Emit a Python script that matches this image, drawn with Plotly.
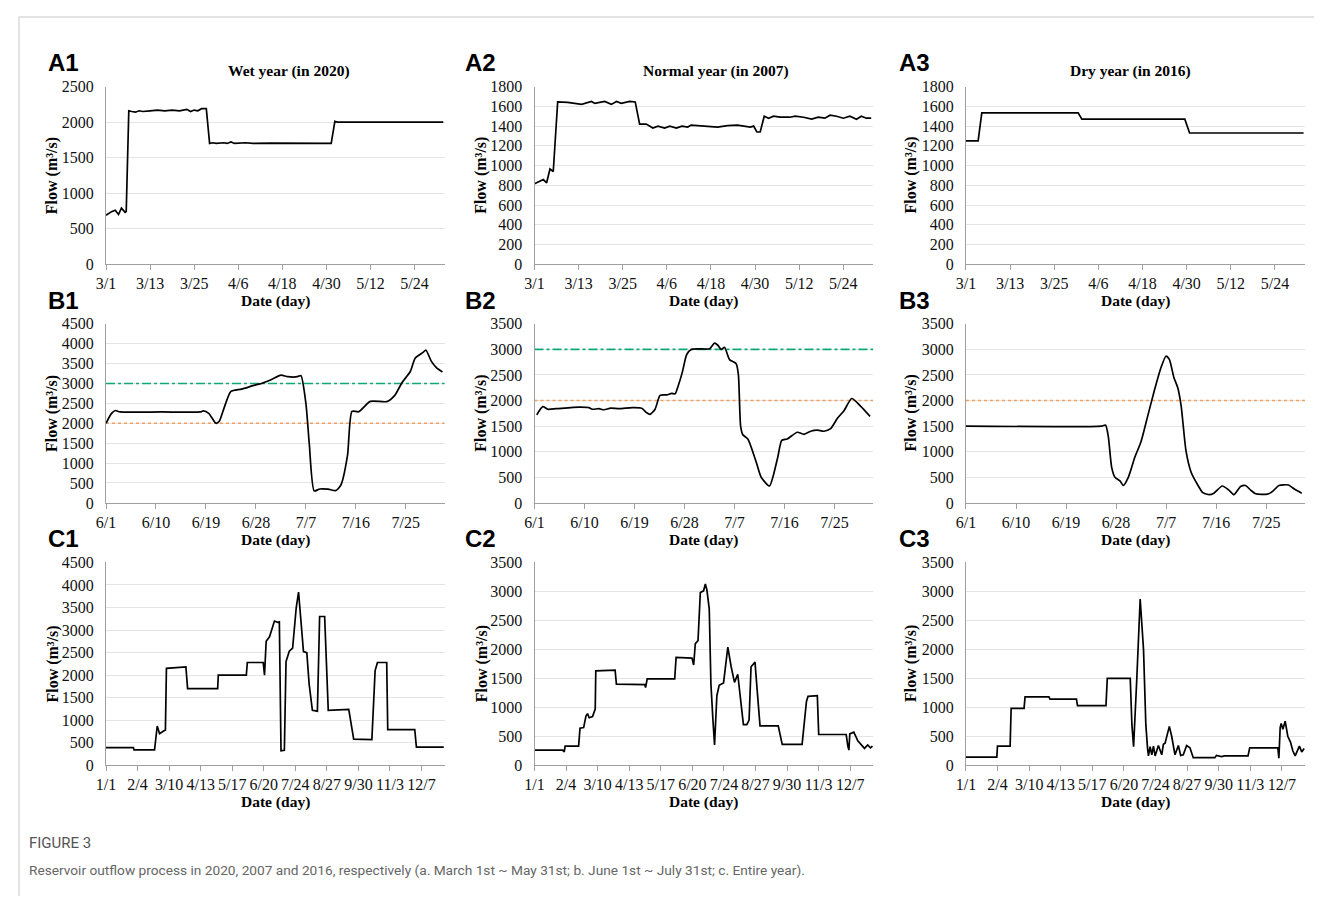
import plotly.graph_objects as go

# ---------------- data (day offset from first date, flow m3/s) ----------------
A_TICKTEXT = ["3/1", "3/13", "3/25", "4/6", "4/18", "4/30", "5/12", "5/24"]
A_TICKVALS = [0, 12, 24, 36, 48, 60, 72, 84]
B_TICKTEXT = ["6/1", "6/10", "6/19", "6/28", "7/7", "7/16", "7/25"]
B_TICKVALS = [0, 9, 18, 27, 36, 45, 54]
C_TICKTEXT = ["1/1", "2/4", "3/10", "4/13", "5/17", "6/20", "7/24", "8/27", "9/30", "11/3", "12/7"]
C_TICKVALS = [0, 34, 68, 102, 136, 170, 204, 238, 272, 306, 340]

A1_DAY = [0, 1.5, 2.5, 3.4, 4.2, 5.2, 5.5, 6.2, 7, 8, 9, 10, 12, 14, 16, 18, 20, 22, 23, 24, 25, 26, 27.3,
          28.2, 29, 30, 32, 33, 34, 35, 38, 40, 45, 50, 55, 61.3, 62.3, 63, 91.8]
A1_FLOW = [690, 740, 760, 700, 790, 730, 740, 2160, 2150, 2140, 2160, 2150, 2160, 2170, 2160, 2170, 2160, 2180, 2150, 2170, 2160, 2190, 2190,
           1700, 1710, 1700, 1710, 1700, 1720, 1700, 1710, 1700, 1705, 1705, 1705, 1700, 2010, 2000, 2000]

A2_DAY = [0, 2.4, 3.3, 4.2, 5.1, 6.3, 9, 12.8, 15.5, 16.4, 19.1, 20.9, 22.3, 23.6, 25.9, 27.4, 28.6, 30.4, 32.2,
          33.6, 35.4, 36.8, 38.6, 40.1, 41.7, 42.6, 48, 49.8, 52.5, 55.2, 58.7, 59.6, 60.5, 61.4, 62.5, 63.7, 65,
          66.8, 69.5, 70.9, 73.2, 75.4, 77.2, 79, 80.4, 82.2, 84, 85.8, 87.6, 88.9, 90.3, 91.6]
A2_FLOW = [815, 858, 825, 965, 940, 1645, 1640, 1620, 1650, 1630, 1650, 1620, 1650, 1630, 1650, 1645, 1420, 1420, 1380,
           1400, 1380, 1400, 1380, 1400, 1390, 1410, 1395, 1390, 1405, 1410, 1390, 1400, 1340, 1340, 1500, 1480, 1500,
           1490, 1490, 1500, 1490, 1470, 1490, 1480, 1510, 1500, 1480, 1500, 1470, 1500, 1480, 1480]

A3_DAY = [0, 3.3, 4.3, 30.5, 31.5, 59.5, 60.8, 91.8]
A3_FLOW = [1250, 1250, 1535, 1535, 1470, 1470, 1330, 1330]

B1_DAY = [0, 1, 1.7, 2.5, 10, 17, 17.5, 18.5, 19.8, 20.4, 21.3, 22.5, 24.4, 26.8, 28, 29.8, 31.5, 32.7, 34.5, 35.1,
          36, 36.6, 37.5, 38.5, 40, 41.4, 42.3, 43.5, 44.3, 45.5, 47.6, 50.6, 52, 53.3, 54.8, 55.7, 57.1, 57.6,
          58.6, 59.5, 60.6]
B1_FLOW = [2000, 2250, 2320, 2285, 2285, 2285, 2310, 2250, 2000, 2050, 2400, 2800, 2857, 2960, 3000, 3100, 3210, 3170, 3170, 3200,
           2500, 1500, 300, 350, 345, 310, 450, 1200, 2300, 2290, 2550, 2545, 2700, 3020, 3300, 3637, 3780, 3840,
           3555, 3400, 3290]

B2_DAY = [0.4, 1.5, 2.4, 3.9, 8, 9.8, 10.4, 11.6, 12.5, 13.7, 15.2, 17.6, 19.3, 20.2, 20.8, 21.7, 22.6, 23.8,
          24.7, 25.3, 25.9, 26.6, 27.4, 28.3, 29.5, 31.5, 32.4, 33, 33.6, 34.2, 35.1, 36.3, 36.7, 37.1, 37.5,
          38.4, 39.9, 40.8, 42.3, 42.9, 43.8, 44.5, 45.5, 47.3, 48.5, 49.7, 50.9, 52.1, 53.3, 54.5, 55.7, 57.1,
          58.6, 60.4]
B2_FLOW = [1720, 1880, 1830, 1840, 1870, 1860, 1830, 1840, 1820, 1850, 1840, 1860, 1850, 1760, 1730, 1830, 2100, 2110,
           2140, 2130, 2300, 2550, 2900, 3000, 3010, 3010, 3120, 3080, 3000, 3040, 2800, 2720, 2500, 1500, 1330,
           1250, 800, 500, 330, 500, 900, 1220, 1250, 1380, 1340, 1400, 1420, 1400, 1450, 1650, 1800, 2040,
           1900, 1690]

B3_DAY = [0, 24.4, 25.1, 25.6, 26.2, 26.8, 27.7, 28.3, 29.2, 30.4, 31.5, 32.7, 33.9, 35.1, 36, 36.6, 37.4, 38.1,
          38.7, 39.6, 40.5, 41.7, 42.6, 43.8, 44.6, 46.1, 47.3, 48.2, 49.4, 50.3, 51.2, 52.1, 54.2, 55.1, 56.3,
          58, 59.2, 60.4]
B3_FLOW = [1500, 1500, 1520, 1300, 700, 500, 430, 340, 500, 900, 1200, 1700, 2200, 2650, 2870, 2800, 2450, 2250,
           1900, 1000, 600, 350, 200, 160, 190, 330, 250, 160, 320, 340, 250, 180, 170, 220, 340,
           350, 260, 190]

C1_DAY = [0, 29.5, 30.2, 52.3, 55.2, 57.7, 61.2, 64, 65.1, 75, 86.1, 87.9, 120.3, 121, 151.2, 152.3, 169.4, 170.8,
          172.6, 176.2, 181.5, 185.1, 186.8, 188.6, 192.2, 194, 197.5, 201.1, 205, 207.5, 210, 212.8, 216.4,
          218.9, 222.4, 227.8, 230.2, 235.6, 239.5, 261.6, 266.9, 286.5, 290, 292.5, 302.5, 303.6, 332.7,
          334.5, 364]
C1_FLOW = [390, 390, 340, 340, 870, 700, 750, 780, 2150, 2160, 2180, 1700, 1700, 2000, 2000, 2280, 2280, 2000,
           2750, 2850, 3200, 3170, 3180, 320, 330, 2300, 2530, 2600, 3500, 3840, 3300, 2520, 2500,
           1800, 1220, 1200, 3300, 3300, 1220, 1240, 580, 570, 2100, 2280, 2280, 790, 790,
           400, 400]

C2_DAY = [0, 30.4, 32, 33, 47.5, 49, 52.9, 55.4, 57.1, 58.9, 62.5, 64.3, 65.4, 66, 86.8, 88.2, 118.9, 119.6,
          121.4, 151, 152.5, 169.6, 171.4, 173.2, 176.1, 178.6, 182.1, 184, 185.7, 188.2, 190, 192.1, 193.9,
          196.4, 198.9, 203.6, 208.2, 211.8, 215.4, 218.9, 223.2, 225, 228.6, 231.1, 233.2, 235.7, 237.5,
          239.3, 242.9, 262.5, 266.8, 288.2, 292.9, 294.6, 304.6, 306.1, 335.7, 337.5, 338.6, 339.6, 343.9,
          348.2, 351.8, 355.4, 358.9, 361.8, 364]
C2_FLOW = [260, 260, 230, 330, 330, 640, 650, 850, 890, 820, 840, 950, 970, 1630, 1640, 1400, 1390, 1340,
           1490, 1490, 1860, 1850, 1730, 2100, 2150, 2980, 3010, 3130, 3020, 2700, 1400, 800, 350,
           1200, 1380, 1420, 2040, 1700, 1430, 1570, 1000, 700, 700, 780, 1700, 1750, 1780,
           1400, 680, 680, 360, 360, 1100, 1190, 1200, 530, 530, 330, 260, 540, 570,
           420, 350, 290, 350, 300, 330]

C3_DAY = [0, 33.2, 33.9, 47.5, 48.6, 62.5, 63.6, 89.3, 90.4, 118.9, 120, 150.7, 152.1, 176.8, 178.6, 180.4, 183.9,
          187.5, 191.1, 193.6, 195.4, 196.4, 198.2, 200, 201.8, 203.6, 207.1, 210.7, 212.5, 214.3, 218.9,
          221.4, 225, 228.6, 231.1, 233.9, 237.5, 241.1, 244.6, 267.9, 269.6, 275, 278.6, 303.6, 305.4,
          335.7, 336.8, 338.2, 339.3, 341.1, 343.6, 346.4, 349.3, 351.8, 354.3, 356.4, 358.9, 361.4, 364]
C3_FLOW = [140, 140, 330, 330, 980, 980, 1180, 1180, 1140, 1140, 1030, 1030, 1500, 1500, 700, 320, 1500,
           2870, 2000, 700, 300, 160, 320, 180, 330, 160, 340, 180, 360, 380, 670,
           500, 180, 340, 170, 180, 340, 300, 130, 130, 170, 150, 160, 160, 300,
           300, 120, 650, 720, 620, 760, 500, 400, 250, 160, 250, 330, 230, 290]

THRESH_HIGH = [3000, 3000, None]     # B1, B2, B3 (green dash-dot)
THRESH_LOW = [2000, 2000, 2000]      # B1, B2, B3 (orange dotted)

TITLES = ["Wet year (in 2020)", "Normal year (in 2007)", "Dry year (in 2016)"]
LABELS = [["A1", "A2", "A3"], ["B1", "B2", "B3"], ["C1", "C2", "C3"]]
YMAX = [[2500, 1800, 1800], [4500, 3500, 3500], [4500, 3500, 3500]]
YDTICK = [[500, 200, 200], [500, 500, 500], [500, 500, 500]]

# ---------------- layout geometry (page pixels) ----------------
# The page body keeps its default 8px margin, so the figure is drawn 16px
# smaller than the window and page coordinates are shifted by OFF.
PAGE_W, PAGE_H = 1322, 913
OFF = 8
W, H = PAGE_W - 2 * OFF, PAGE_H - 2 * OFF
COLS = [(96.7, 438.0), (528.5, 870.0), (963.3, 1305.0)]
ROWS = [(80.0, 261.0), (321.7, 504.3), (565.0, 771.7)]
XRANGE = [[0, 92.2], [0, 61.0], [0, 365.0]]
LABEL_X = [36, 456, 894]
LABEL_Y = [55, 298, 541]
TITLE_X = [281, 711, 1129]
DATE_Y = [298, 542, 809]
FLOW_X = [43, 475, 908]

SERIF = "Liberation Serif, Times New Roman, serif"
SANS = "Liberation Sans, Arial, sans-serif"

def px(x):
    return (x - OFF) / W

def py(y):
    return 1 - (y - OFF) / H

data = [
    [(A1_DAY, A1_FLOW), (A2_DAY, A2_FLOW), (A3_DAY, A3_FLOW)],
    [(B1_DAY, B1_FLOW), (B2_DAY, B2_FLOW), (B3_DAY, B3_FLOW)],
    [(C1_DAY, C1_FLOW), (C2_DAY, C2_FLOW), (C3_DAY, C3_FLOW)],
]
ticks = [(A_TICKVALS, A_TICKTEXT), (B_TICKVALS, B_TICKTEXT), (C_TICKVALS, C_TICKTEXT)]

fig = go.Figure()
layout = {}
annotations = []
axis_color = "#a0a0a0"
grid_color = "#e4e4e4"

for r in range(3):
    for c in range(3):
        k = r * 3 + c + 1
        xa = "x" if k == 1 else f"x{k}"
        ya = "y" if k == 1 else f"y{k}"
        xkey = "xaxis" if k == 1 else f"xaxis{k}"
        ykey = "yaxis" if k == 1 else f"yaxis{k}"
        l, rr = COLS[c]
        t, b = ROWS[r]
        tv, tt = ticks[r]
        layout[xkey] = dict(
            domain=[px(l), px(rr)], anchor=ya, range=XRANGE[r],
            tickvals=tv, ticktext=tt, showgrid=False, zeroline=False,
            showline=True, linecolor=axis_color, linewidth=1,
            ticks="outside", ticklen=5, tickcolor=axis_color,
            tickfont=dict(family=SERIF, size=16, color="#111"),
            fixedrange=True,
        )
        layout[ykey] = dict(
            domain=[py(b), py(t)], anchor=xa, range=[0, YMAX[r][c]],
            dtick=YDTICK[r][c], tick0=0, showgrid=True, gridcolor=grid_color,
            gridwidth=1, zeroline=False, showline=True, linecolor=axis_color,
            linewidth=1, ticks="", ticklabelstandoff=8,
            tickfont=dict(family=SERIF, size=16, color="#111"),
            fixedrange=True,
        )
        dx, dy = data[r][c]
        if r == 1:
            xr = XRANGE[r]
            if THRESH_HIGH[c] is not None:
                fig.add_trace(go.Scatter(
                    x=xr, y=[THRESH_HIGH[c]] * 2, xaxis=xa, yaxis=ya, mode="lines",
                    line=dict(color="#10a878", width=1.6, dash="dashdot"),
                    showlegend=False, hoverinfo="skip"))
            fig.add_trace(go.Scatter(
                x=xr, y=[THRESH_LOW[c]] * 2, xaxis=xa, yaxis=ya, mode="lines",
                line=dict(color="#f0a060", width=1.6, dash="dot"),
                showlegend=False, hoverinfo="skip"))
        fig.add_trace(go.Scatter(
            x=dx, y=dy, xaxis=xa, yaxis=ya, mode="lines",
            line=dict(color="#000000", width=1.7,
                      shape="spline" if r == 1 else "linear",
                      smoothing=0.6 if r == 1 else None),
            showlegend=False))

        annotations.append(dict(
            x=px(LABEL_X[c]), y=py(LABEL_Y[r]), xref="paper", yref="paper",
            xanchor="left", yanchor="middle", showarrow=False,
            text=f"<b>{LABELS[r][c]}</b>", font=dict(family=SANS, size=24, color="#000")))
        annotations.append(dict(
            x=px((l + rr) / 2), y=py(DATE_Y[r]), xref="paper", yref="paper",
            xanchor="center", yanchor="middle", showarrow=False,
            text="<b>Date (day)</b>", font=dict(family=SERIF, size=15.5, color="#000")))
        annotations.append(dict(
            x=px(FLOW_X[c]), y=py((t + b) / 2), xref="paper", yref="paper",
            xanchor="center", yanchor="middle", showarrow=False, textangle=-90,
            text="<b>Flow (m³/s)</b>", font=dict(family=SERIF, size=16, color="#000")))

for c in range(3):
    annotations.append(dict(
        x=px(TITLE_X[c]), y=py(64), xref="paper", yref="paper",
        xanchor="center", yanchor="middle", showarrow=False,
        text=f"<b>{TITLES[c]}</b>", font=dict(family=SERIF, size=15.5, color="#000")))

annotations.append(dict(
    x=px(17), y=py(851), xref="paper", yref="paper", xanchor="left", yanchor="middle",
    showarrow=False, text="FIGURE 3",
    font=dict(family="Roboto, sans-serif", size=15, color="#555")))
annotations.append(dict(
    x=px(17), y=py(878), xref="paper", yref="paper", xanchor="left", yanchor="middle",
    showarrow=False,
    text="Reservoir outflow process in 2020, 2007 and 2016, respectively (a. March 1st ~ May 31st; b. June 1st ~ July 31st; c. Entire year).",
    font=dict(family="Roboto, sans-serif", size=13.7, color="#666")))

shapes = [
    dict(type="line", xref="paper", yref="paper", x0=px(9), x1=1, y0=py(9), y1=py(9),
         line=dict(color="#d9d9d9", width=1.5)),
    dict(type="line", xref="paper", yref="paper", x0=px(9), x1=px(9), y0=py(9), y1=0,
         line=dict(color="#d9d9d9", width=1.5)),
]

fig.update_layout(
    width=W, height=H, margin=dict(l=0, r=0, t=0, b=0),
    paper_bgcolor="white", plot_bgcolor="white",
    annotations=annotations, shapes=shapes, showlegend=False,
    **layout,
)

fig.write_html("out.html", config={"displayModeBar": False})
